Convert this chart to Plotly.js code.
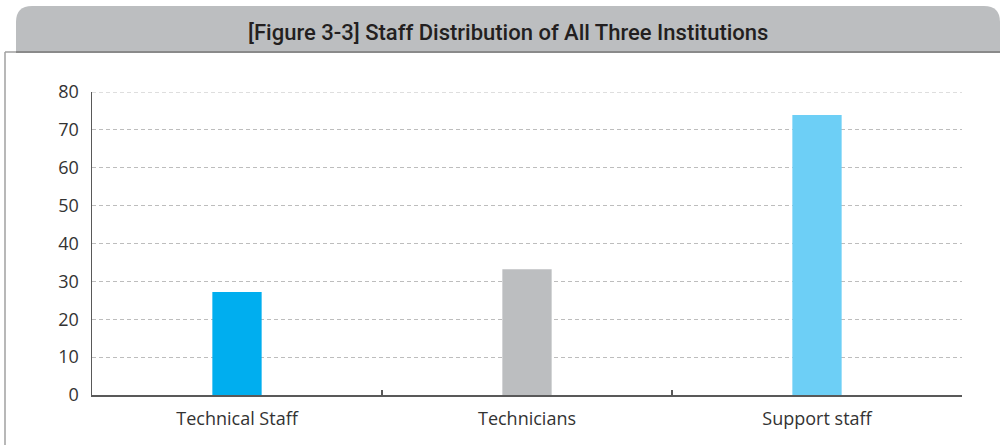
<!DOCTYPE html>
<html>
<head>
<meta charset="utf-8">
<script src="https://cdn.plot.ly/plotly-3.0.1.min.js"></script>
<style>html,body{margin:0;padding:0;background:#fff;}#chart{width:1001px;height:445px;}</style>
</head>
<body>
<div id="chart"></div>
<script>
const categories = ["Technical Staff", "Technicians", "Support staff"];
const staffCounts = [27.2, 33.2, 73.9];
const barColors = ["#00aeef", "#bcbec0", "#6dcff6"];
const yTicks = [0, 10, 20, 30, 40, 50, 60, 70, 80];
const chartTitle = "[Figure 3-3] Staff Distribution of All Three Institutions";

const W = 1001, H = 445;
const M = {l: 92, r: 39, t: 92, b: 50};
const pw = W - M.l - M.r, ph = H - M.t - M.b;
const px = x => (x - M.l) / pw;
const py = y => (H - M.b - y) / ph;

// header rounded box (pixel -> paper)
const hx0 = 16, hx1 = 1000, hy0 = 6, hy1 = 52, r = 16;
const headerPath =
  `M ${px(hx0)},${py(hy1)} L ${px(hx0)},${py(hy0 + r)} Q ${px(hx0)},${py(hy0)} ${px(hx0 + r)},${py(hy0)} ` +
  `L ${px(hx1 - r)},${py(hy0)} Q ${px(hx1)},${py(hy0)} ${px(hx1)},${py(hy0 + r)} L ${px(hx1)},${py(hy1)} Z`;

const gridDash = "4px,3px";

const data = [{
  type: "bar",
  x: categories,
  y: staffCounts,
  marker: {color: barColors},
  width: 0.17,
  hoverinfo: "skip"
}];

const layout = {
  width: W, height: H,
  margin: M,
  paper_bgcolor: "#ffffff",
  plot_bgcolor: "rgba(0,0,0,0)",
  showlegend: false,
  font: {family: "Open Sans, Noto Sans, sans-serif", color: "#333333"},
  xaxis: {
    type: "category",
    range: [-0.5, 2.5],
    showline: true, linecolor: "#595959", linewidth: 1.5,
    ticks: "inside", tickson: "boundaries", ticklen: 5, tickcolor: "#595959", tickwidth: 1.5,
    showgrid: false,
    tickfont: {size: 18, color: "#333333"},
    ticklabelstandoff: 7,
    fixedrange: true
  },
  yaxis: {
    range: [0, 80],
    tickvals: yTicks,
    ticktext: yTicks.map(String),
    showline: true, linecolor: "#595959", linewidth: 1.5,
    ticks: "",
    showgrid: true, gridcolor: "#bdbdbd", griddash: gridDash, gridwidth: 1,
    zeroline: false,
    tickfont: {size: 18, color: "#333333"},
    ticklabelstandoff: 8,
    fixedrange: true
  },
  shapes: [
    {type: "path", xref: "paper", yref: "paper", path: headerPath,
     fillcolor: "#bcbec0", line: {width: 0}, layer: "below"},
    {type: "line", xref: "paper", yref: "paper", x0: px(hx0), x1: px(hx1), y0: py(hy1), y1: py(hy1),
     line: {color: "#8a8a8a", width: 2}},
    {type: "line", xref: "paper", yref: "paper", x0: px(5), x1: px(hx0), y0: py(hy1), y1: py(hy1),
     line: {color: "#a0a0a0", width: 1.5}},
    {type: "line", xref: "paper", yref: "paper", x0: px(5), x1: px(5), y0: py(hy1), y1: py(H + 2),
     line: {color: "#a0a0a0", width: 1.5}},
    {type: "line", xref: "paper", yref: "y", x0: 0, x1: 1, y0: yTicks[yTicks.length - 1], y1: yTicks[yTicks.length - 1],
     line: {color: "#bdbdbd", width: 1, dash: gridDash}, layer: "below"}
  ],
  annotations: [{
    xref: "paper", yref: "paper", x: px(508), y: py(33),
    xanchor: "center", yanchor: "middle", showarrow: false,
    text: chartTitle,
    font: {family: "Roboto, sans-serif", size: 22, weight: 500, color: "#231f20"}
  }]
};

Plotly.newPlot("chart", data, layout, {displayModeBar: false, staticPlot: true});
</script>
</body>
</html>
